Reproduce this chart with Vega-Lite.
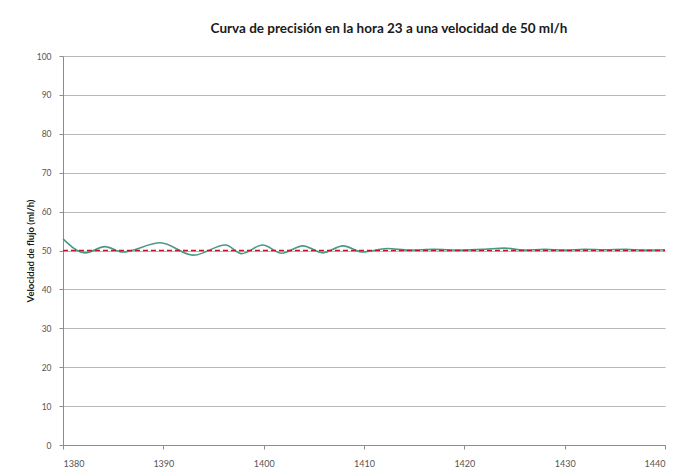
{
  "$schema": "https://vega.github.io/schema/vega-lite/v6.json",
  "width": 602,
  "height": 389,
  "autosize": {"type": "none"},
  "padding": {"left": 63, "top": 56, "right": 33, "bottom": 27},
  "background": "white",
  "config": {
    "view": {"stroke": null},
    "font": "Lato"
  },
  "title": {
    "text": "Curva de precisión en la hora 23 a una velocidad de 50 ml/h",
    "font": "Lato",
    "fontSize": 13.5,
    "fontWeight": "bold",
    "color": "#1a1a1a",
    "anchor": "middle",
    "dx": 25,
    "offset": 17
  },
  "datasets": {
    "medido": [
      {"t": 1380, "v": 53.0},
      {"t": 1382.2, "v": 49.4},
      {"t": 1384.2, "v": 51.0},
      {"t": 1385.9, "v": 49.6},
      {"t": 1389.7, "v": 52.0},
      {"t": 1393.0, "v": 48.8},
      {"t": 1396.2, "v": 51.4},
      {"t": 1397.8, "v": 49.2},
      {"t": 1399.9, "v": 51.4},
      {"t": 1401.8, "v": 49.3},
      {"t": 1403.9, "v": 51.2},
      {"t": 1405.9, "v": 49.4},
      {"t": 1407.9, "v": 51.2},
      {"t": 1409.9, "v": 49.6},
      {"t": 1412.3, "v": 50.5},
      {"t": 1414.5, "v": 50.1},
      {"t": 1417, "v": 50.3},
      {"t": 1419.5, "v": 50.1},
      {"t": 1422, "v": 50.3},
      {"t": 1424, "v": 50.6},
      {"t": 1426, "v": 50.1},
      {"t": 1428, "v": 50.3},
      {"t": 1430, "v": 50.1},
      {"t": 1432, "v": 50.3},
      {"t": 1434, "v": 50.2},
      {"t": 1436, "v": 50.3},
      {"t": 1438, "v": 50.1},
      {"t": 1440, "v": 50.2}
    ],
    "objetivo": [
      {"t": 1380, "v": 50},
      {"t": 1440, "v": 50}
    ]
  },
  "encoding": {
    "x": {
      "field": "t",
      "type": "quantitative",
      "scale": {"domain": [1380, 1440], "nice": false, "zero": false},
      "axis": {
        "values": [1380, 1390, 1400, 1410, 1420, 1430, 1440],
        "format": "d",
        "title": null,
        "grid": false,
        "domainColor": "#8c8c8c",
        "tickColor": "#8c8c8c",
        "tickSize": 4,
        "labelPadding": 10,
        "labelFont": "Lato",
        "labelFontSize": 9,
        "labelColor": "#555555"
      }
    },
    "y": {
      "field": "v",
      "type": "quantitative",
      "scale": {"domain": [0, 100], "nice": false},
      "axis": {
        "values": [0, 10, 20, 30, 40, 50, 60, 70, 80, 90, 100],
        "title": "Velocidad de flujo (ml/h)",
        "titleFont": "Lato",
        "titleFontSize": 9.5,
        "titleFontWeight": "bold",
        "titleColor": "#1a1a1a",
        "titlePadding": 1,
        "grid": true,
        "gridColor": "#b8b8b8",
        "gridWidth": 1,
        "domainColor": "#8c8c8c",
        "tickColor": "#8c8c8c",
        "tickSize": 4,
        "labelPadding": 8,
        "labelFont": "Lato",
        "labelFontSize": 8.5,
        "labelColor": "#555555"
      }
    }
  },
  "layer": [
    {
      "data": {"name": "medido"},
      "mark": {"type": "line", "interpolate": "monotone", "color": "#4a9a82", "strokeWidth": 1.6}
    },
    {
      "data": {"name": "objetivo"},
      "mark": {"type": "line", "color": "#c8102e", "strokeWidth": 1.4, "strokeDash": [5, 3]}
    }
  ]
}
